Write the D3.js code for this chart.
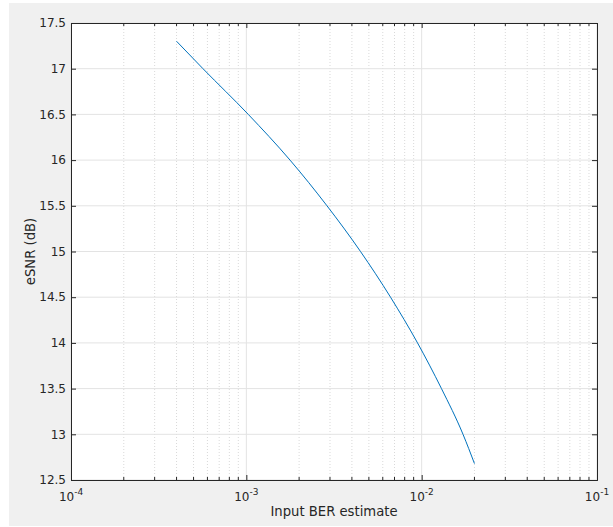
<!DOCTYPE html>
<html>
<head>
<meta charset="utf-8">
<script src="https://cdn.jsdelivr.net/npm/d3@7"></script>
<style>
  body { margin: 0; background: #fff; }
  text { font-family: "DejaVu Sans", sans-serif; fill: #262626; }
</style>
</head>
<body>
<div id="chart"></div>
<script>
// values
const berValues = [4e-4, 5.66e-4, 1.026e-3, 1.775e-3, 2.884e-3, 4.479e-3, 6.644e-3, 9.47e-3, 1.297e-2, 1.721e-2, 2e-2];
const esnrValues = [17.3, 17.0, 16.5, 16.0, 15.5, 15.0, 14.5, 14.0, 13.5, 13.0, 12.68];
const xTicks = [1e-4, 1e-3, 1e-2, 1e-1];
const yTicks = [12.5, 13, 13.5, 14, 14.5, 15, 15.5, 16, 16.5, 17, 17.5];

const W = 613, H = 527;
const margin = { top: 23, left: 71, right: 16, bottom: 47 };
const plotW = W - margin.left - margin.right;
const plotH = H - margin.top - margin.bottom;

const svg = d3.select("#chart").append("svg").attr("width", W).attr("height", H);

// figure background
svg.append("rect").attr("x", 9).attr("y", 3).attr("width", W - 9).attr("height", H - 4).attr("fill", "#f0f0f0");

const g = svg.append("g").attr("transform", `translate(${margin.left},${margin.top})`);
g.append("rect").attr("width", plotW).attr("height", plotH).attr("fill", "#fff");

const x = d3.scaleLog().domain([1e-4, 1e-1]).range([0, plotW]);
const y = d3.scaleLinear().domain([12.5, 17.5]).range([plotH, 0]);

// minor ticks
const minor = [];
for (let e = -4; e < -1; e++) {
  for (let m = 2; m <= 9; m++) minor.push(m * Math.pow(10, e));
}

g.append("g").selectAll("line").data(minor).join("line")
  .attr("x1", d => x(d)).attr("x2", d => x(d))
  .attr("y1", 0).attr("y2", plotH)
  .attr("stroke", "#d9d9d9").attr("stroke-dasharray", "1,2");

g.append("g").selectAll("line").data(xTicks).join("line")
  .attr("x1", d => x(d)).attr("x2", d => x(d))
  .attr("y1", 0).attr("y2", plotH)
  .attr("stroke", "#e3e3e3");

g.append("g").selectAll("line").data(yTicks).join("line")
  .attr("x1", 0).attr("x2", plotW)
  .attr("y1", d => y(d)).attr("y2", d => y(d))
  .attr("stroke", "#e3e3e3");

// curve
const pts = berValues.map((b, i) => [b, esnrValues[i]]);
const line = d3.line()
  .x(d => x(d[0]))
  .y(d => y(d[1]))
  .curve(d3.curveMonotoneX);

g.append("path")
  .attr("d", line(pts))
  .attr("fill", "none")
  .attr("stroke", "#0072bd")
  .attr("stroke-width", 1);

// axes (ticks inward on all sides)
const axisColor = "#262626";
const bottomAxis = d3.axisBottom(x).tickValues(xTicks).tickSize(-5).tickFormat("");
const topAxis = d3.axisTop(x).tickValues(xTicks).tickSize(-5).tickFormat("");
const leftAxis = d3.axisLeft(y).tickValues(yTicks).tickSize(-5).tickFormat("");
const rightAxis = d3.axisRight(y).tickValues(yTicks).tickSize(-5).tickFormat("");

function styleAxis(sel) {
  sel.selectAll("path, line").attr("stroke", axisColor);
}

g.append("g").attr("transform", `translate(0,${plotH})`).call(bottomAxis).call(styleAxis);
g.append("g").call(topAxis).call(styleAxis);
g.append("g").call(leftAxis).call(styleAxis);
g.append("g").attr("transform", `translate(${plotW},0)`).call(rightAxis).call(styleAxis);

// minor ticks on x axes
g.append("g").selectAll("line").data(minor).join("line")
  .attr("x1", d => x(d)).attr("x2", d => x(d))
  .attr("y1", plotH).attr("y2", plotH - 3)
  .attr("stroke", axisColor);
g.append("g").selectAll("line").data(minor).join("line")
  .attr("x1", d => x(d)).attr("x2", d => x(d))
  .attr("y1", 0).attr("y2", 3)
  .attr("stroke", axisColor);

// y tick labels
g.append("g").selectAll("text").data(yTicks).join("text")
  .attr("x", -5).attr("y", d => y(d)).attr("dy", "0.35em")
  .attr("text-anchor", "end").attr("font-size", 12)
  .text(d => d);

// x tick labels with superscript exponents
const xl = g.append("g").selectAll("text").data(xTicks).join("text")
  .attr("x", d => x(d)).attr("y", plotH + 20.5)
  .attr("text-anchor", "middle").attr("font-size", 12);
xl.append("tspan").text("10");
xl.append("tspan").attr("dy", -6).attr("font-size", 9).text(d => Math.round(Math.log10(d)));

// axis titles
g.append("text")
  .attr("x", plotW / 2).attr("y", plotH + 36)
  .attr("text-anchor", "middle").attr("font-size", 13.2)
  .text("Input BER estimate");

g.append("text")
  .attr("transform", `translate(${-36},${plotH / 2}) rotate(-90)`)
  .attr("text-anchor", "middle").attr("font-size", 13.2)
  .text("eSNR (dB)");
</script>
</body>
</html>
